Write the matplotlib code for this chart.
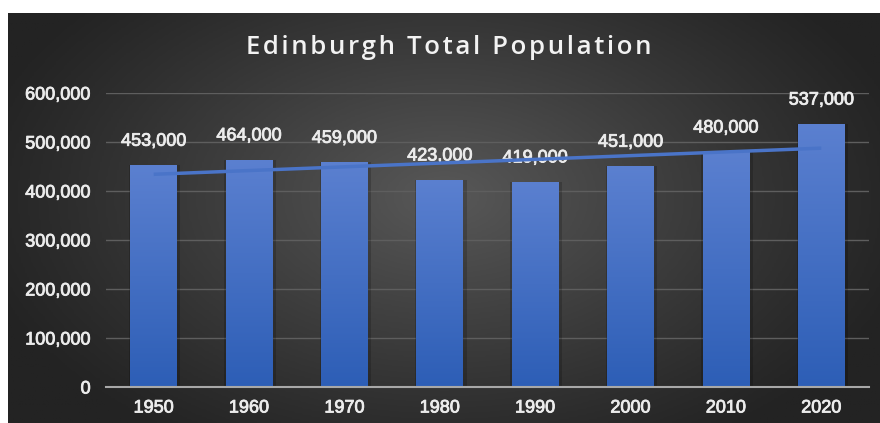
"""Edinburgh total population by decade, bar chart with linear trendline"""

import numpy as np
import matplotlib.pyplot as plt
import matplotlib.patheffects as pe
from matplotlib.colors import LinearSegmentedColormap
from matplotlib.ticker import FuncFormatter

# Population by census decade
years = ['1950', '1960', '1970', '1980', '1990', '2000', '2010', '2020']
population = [453000, 464000, 459000, 423000, 419000, 451000, 480000, 537000]
y_ticks = [0, 100000, 200000, 300000, 400000, 500000, 600000]
title = 'Edinburgh Total Population'


def spaced(text):
	"""Widen letter spacing with hair spaces."""
	return '\u200a'.join(text)


def main():
	fig = plt.figure(figsize=(8.8, 4.23), dpi=100, facecolor='white')

	# Dark panel with a soft radial glow
	bg = fig.add_axes([8 / 880, 0, 872 / 880, 410 / 423])
	gx, gy = np.meshgrid(np.linspace(-1, 1, 400), np.linspace(-1, 1, 200))
	r = np.sqrt((gx * 0.9) ** 2 + ((gy + 0.1) * 0.7) ** 2)
	shade = np.clip(1 - r, 0, 1) ** 1.1
	bg_cmap = LinearSegmentedColormap.from_list('panel', ['#232323', '#585858'])
	bg.imshow(shade, cmap=bg_cmap, aspect='auto', extent=[0, 1, 0, 1], vmin=0, vmax=1)
	bg.set_axis_off()

	ax = fig.add_axes([106 / 880, 1 - 387 / 423, 763 / 880, (387 - 93) / 423])
	ax.set_facecolor('none')

	x = np.arange(len(years))
	bar_width = 0.49

	# Faint shadow behind each bar
	ax.bar(x + 0.01, population, width=bar_width + 0.05, color='black', alpha=0.18, zorder=2)
	bars = ax.bar(x, population, width=bar_width, color='#4472c4', zorder=3)

	# Vertical blue gradient inside every bar
	bar_cmap = LinearSegmentedColormap.from_list('bar', ['#2d5eb6', '#5b80d0'])
	grad = np.linspace(0, 1, 256).reshape(-1, 1)
	for b in bars:
		x0, w, h = b.get_x(), b.get_width(), b.get_height()
		im = ax.imshow(grad, cmap=bar_cmap, origin='lower', aspect='auto',
					   extent=[x0, x0 + w, 0, h], zorder=3.5)
		im.set_clip_path(b)

	# Slightly heavier than regular weight
	thick = [pe.withStroke(linewidth=0.6, foreground='#ececec')]

	# Value labels above bars
	for xi, val in zip(x, population):
		ax.annotate(f'{val:,}', (xi, val), xytext=(0, 11), textcoords='offset points',
					ha='center', va='bottom', fontsize=13, color='#ececec',
					family='Liberation Sans', path_effects=thick, zorder=4)

	# Linear trendline
	coef = np.polyfit(x, population, 1)
	ax.plot(x, np.polyval(coef, x), color='#4a74c8', linewidth=2.5,
			solid_capstyle='butt', zorder=5)

	ax.set_xlim(-0.5, len(years) - 0.5)
	ax.set_ylim(0, 600000)
	ax.set_yticks(y_ticks)
	ax.yaxis.set_major_formatter(FuncFormatter(lambda v, _: f'{int(v):,}'))
	ax.set_xticks(x)
	ax.set_xticklabels(years)

	ax.grid(axis='y', color='#5e5e5e', linewidth=1.0, zorder=1)
	ax.set_axisbelow(True)
	for side in ['top', 'right', 'left']:
		ax.spines[side].set_visible(False)
	ax.spines['bottom'].set_color('#a8a8a8')
	ax.spines['bottom'].set_linewidth(1.5)
	ax.spines['bottom'].set_zorder(6)

	ax.tick_params(axis='both', length=0, labelsize=13, labelcolor='#ececec')
	ax.tick_params(axis='y', pad=11)
	ax.tick_params(axis='x', pad=9)
	for lbl in ax.get_xticklabels() + ax.get_yticklabels():
		lbl.set_family('Liberation Sans')
		lbl.set_path_effects(thick)

	fig.text(449 / 880, 1 - 47 / 423, spaced(title), ha='center', va='center',
			 fontsize=18.5, color='#f2f2f2', family='Open Sans', fontweight='semibold')

	plt.savefig('out.png', dpi=100, facecolor='white')
	plt.close()


if __name__ == "__main__":
	main()
